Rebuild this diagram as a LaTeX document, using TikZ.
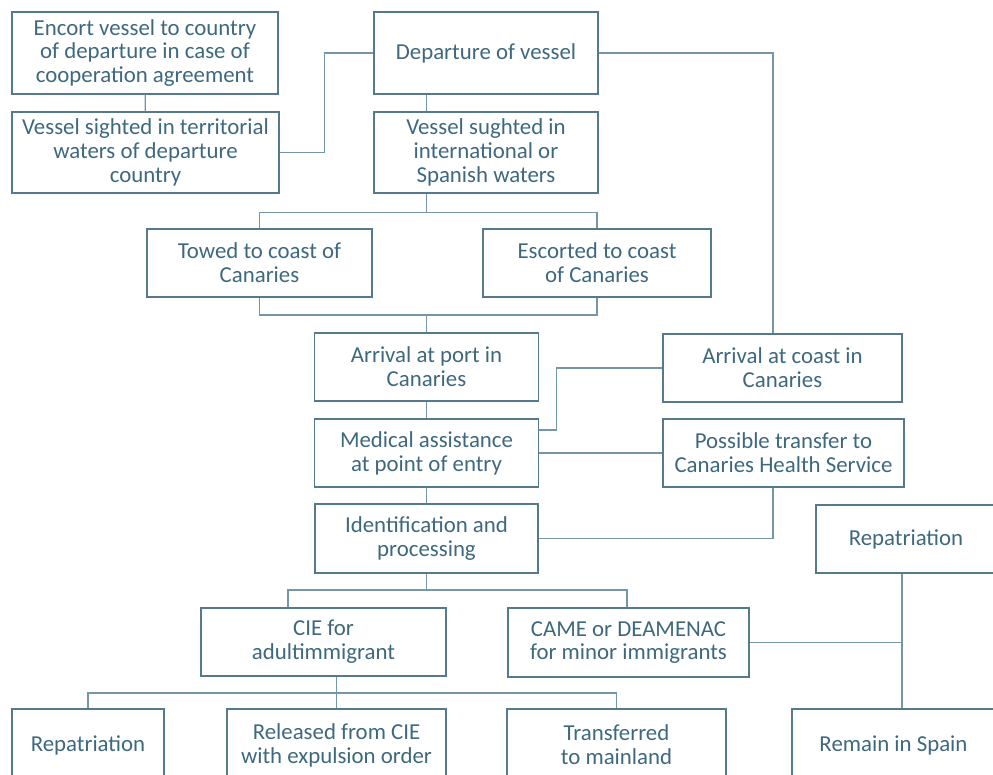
\documentclass[tikz,border=0pt]{standalone}
\usepackage{fontspec}
\setmainfont{Carlito}
\usepackage{tikz}
\usetikzlibrary{calc}
\definecolor{txtc}{RGB}{62,104,126}
\definecolor{boxc}{RGB}{84,122,140}
\definecolor{linc}{RGB}{116,150,166}
\tikzset{box/.style={draw=boxc,text=txtc,align=center,inner sep=0pt,font=\fontsize{13}{13.6}\selectfont},
	conn/.style={draw=linc}}
\begin{document}
\begin{tikzpicture}[x=0.02cm,y=-0.02cm,line width=0.8pt]
	\useasboundingbox (0,0) rectangle (993,774);
	\clip (0,0) rectangle (993,774);
	% les boites
	\node[box,minimum width=5.32cm,minimum height=1.64cm] (enc) at (145,53) {Encort vessel to country\\of departure in case of\\cooperation agreement};
	\node[box,minimum width=5.34cm,minimum height=1.62cm] (ter) at (145.5,152.5) {Vessel sighted in territorial\\waters of departure\\country};
	\node[box,minimum width=4.48cm,minimum height=1.64cm] (dep) at (486,53) {Departure of vessel};
	\node[box,minimum width=4.48cm,minimum height=1.62cm] (sug) at (486,152.5) {Vessel sughted in\\international or\\Spanish waters};
	\node[box,minimum width=4.50cm,minimum height=1.36cm] (tow) at (259.5,263) {Towed to coast of\\Canaries};
	\node[box,minimum width=4.56cm,minimum height=1.36cm] (esc) at (597,263) {Escorted to coast\\of Canaries};
	\node[box,minimum width=4.48cm,minimum height=1.36cm] (port) at (426.5,367) {Arrival at port in\\Canaries};
	\node[box,minimum width=4.78cm,minimum height=1.36cm] (coast) at (782.5,368) {Arrival at coast in\\Canaries};
	\node[box,minimum width=4.48cm,minimum height=1.36cm] (med) at (426.5,453) {Medical assistance\\at point of entry};
	\node[box,minimum width=4.82cm,minimum height=1.36cm] (trans) at (783.5,453) {Possible transfer to\\Canaries Health Service};
	\node[box,minimum width=4.46cm,minimum height=1.38cm] (ident) at (426.5,538.5) {Identification and\\processing};
	\node[box,minimum width=3.60cm,minimum height=1.36cm] (repR) at (906,539) {Repatriation};
	\node[box,minimum width=4.90cm,minimum height=1.36cm] (cie) at (323.5,642) {CIE for\\adultimmigrant};
	\node[box,minimum width=4.82cm,minimum height=1.38cm] (came) at (628.5,642.5) {CAME or DEAMENAC\\for minor immigrants};
	\node[box,minimum width=3.04cm,minimum height=1.44cm] (repB) at (88,745) {Repatriation};
	\node[box,minimum width=4.38cm,minimum height=1.44cm] (rel) at (336.5,745) {Released from CIE\\with expulsion order};
	\node[box,minimum width=4.38cm,minimum height=1.44cm] (tra) at (616.5,745) {Transferred\\to mainland};
	\node[box,minimum width=4.06cm,minimum height=1.44cm] (rem) at (893.5,745) {Remain in Spain};
	% les liaisons
	\coordinate (spine) at (426.5,0);
	\coordinate (rx) at (773,0);
	\coordinate (rx2) at (902,0);
	\coordinate (j2) at (426.5,315);
	\coordinate (c1) at (288,590);
	\coordinate (c2) at (627,590);
	\coordinate (j4) at (336.5,693);
	\draw[conn] (enc) -- (ter);
	\draw[conn] (dep.west) -- ++(-49,0) |- (ter.east);
	\draw[conn] (dep.east) -| (coast.north -| rx);
	\draw[conn] (dep.south -| spine) -- (sug.north -| spine);
	\draw[conn] (sug.south -| spine) -- ++(0,19) coordinate (j1);
	\draw[conn] (tow.north) |- (j1) -| (esc.north);
	\draw[conn] (tow.south) |- (j2) -| (esc.south);
	\draw[conn] (j2) -- (port.north);
	\draw[conn] (port) -- (med);
	\draw[conn] (med) -- (ident);
	\draw[conn] (coast.west) -- ++(-106,0) |- ($(med.east)+(0,-23)$);
	\draw[conn] (med.east) -- (trans.west);
	\draw[conn] (trans.south -| rx) |- (ident.east);
	\draw[conn] (ident.south) -- (ident.south |- c1);
	\draw[conn] (c1 |- cie.north) -- (c1) -- (c2) -- (c2 |- came.north);
	\draw[conn] (cie.south -| rel) -- (rel.north);
	\draw[conn] (repB.north) |- (j4) -| (tra.north);
	\draw[conn] (came.east) -- (came.east -| rx2);
	\draw[conn] (repR.south -| rx2) -- (rem.north -| rx2);
\end{tikzpicture}
\end{document}
